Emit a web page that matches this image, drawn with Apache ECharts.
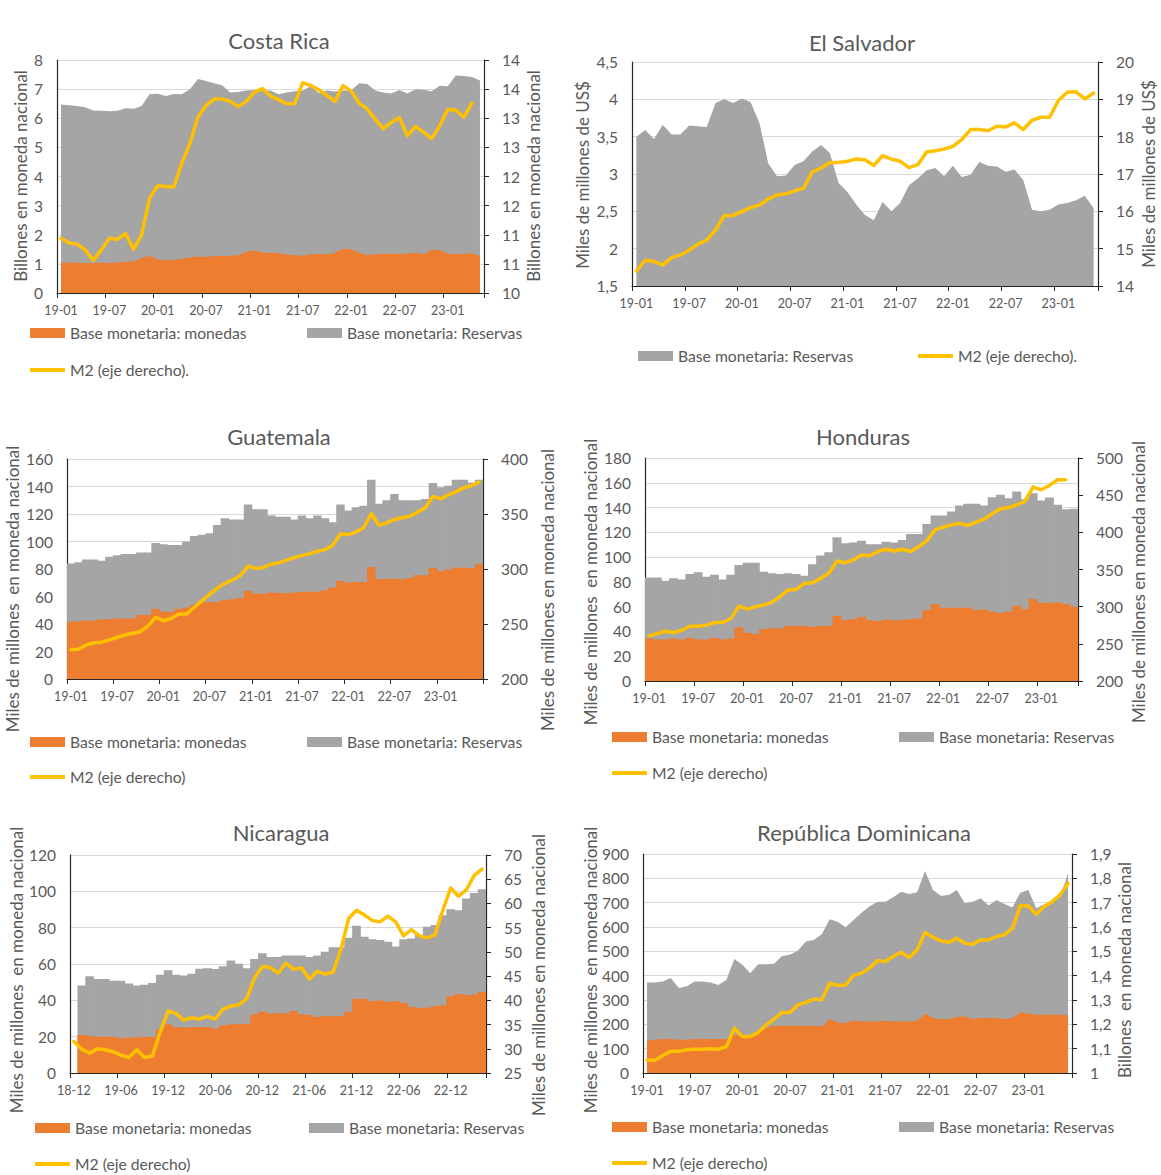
<!DOCTYPE html>
<html>
<head>
<meta charset="utf-8">
<script src="https://cdn.jsdelivr.net/npm/echarts/dist/echarts.min.js"></script>
<style>
  html, body { margin: 0; background: #fff; }
  #chart { width: 1161px; height: 1175px; }
</style>
</head>
<body>
<div id="chart"></div>
<script>
// month labels
const months = ['19-01','19-02','19-03','19-04','19-05','19-06','19-07','19-08','19-09','19-10','19-11','19-12',
  '20-01','20-02','20-03','20-04','20-05','20-06','20-07','20-08','20-09','20-10','20-11','20-12',
  '21-01','21-02','21-03','21-04','21-05','21-06','21-07','21-08','21-09','21-10','21-11','21-12',
  '22-01','22-02','22-03','22-04','22-05','22-06','22-07','22-08','22-09','22-10','22-11','22-12',
  '23-01','23-02','23-03','23-04','23-05','23-06'];
const monthsNic = ['18-12','19-01','19-02','19-03','19-04','19-05','19-06','19-07','19-08','19-09','19-10','19-11','19-12',
  '20-01','20-02','20-03','20-04','20-05','20-06','20-07','20-08','20-09','20-10','20-11','20-12',
  '21-01','21-02','21-03','21-04','21-05','21-06','21-07','21-08','21-09','21-10','21-11','21-12',
  '22-01','22-02','22-03','22-04','22-05','22-06','22-07','22-08','22-09','22-10','22-11','22-12',
  '23-01','23-02','23-03','23-04'];

// Costa Rica (billones)
const crReservas = [6.47,6.45,6.42,6.38,6.27,6.26,6.24,6.26,6.34,6.33,6.42,6.83,6.84,6.76,6.83,6.82,7.0,7.35,7.28,7.2,
  7.13,6.88,6.9,6.95,6.97,6.95,6.95,6.82,6.88,6.93,6.95,7.1,6.87,6.95,6.92,6.95,6.95,7.2,7.18,6.95,
  6.88,6.85,6.97,6.85,7.0,6.98,6.93,7.12,7.1,7.47,7.45,7.42,7.3];
const crMonedas = [1.03,1.05,1.04,1.03,1.03,1.04,1.03,1.05,1.07,1.08,1.2,1.28,1.15,1.12,1.13,1.18,1.22,1.25,1.24,1.27,
  1.27,1.28,1.3,1.42,1.46,1.38,1.37,1.37,1.32,1.3,1.28,1.33,1.34,1.33,1.37,1.52,1.5,1.38,1.3,1.33,
  1.35,1.35,1.35,1.35,1.38,1.33,1.48,1.48,1.35,1.33,1.35,1.36,1.28];
const crM2 = [10.94,10.86,10.84,10.74,10.56,10.74,10.94,10.92,11.02,10.75,11.0,11.63,11.84,11.83,11.82,12.23,12.57,13.02,13.22,13.33,
  13.33,13.29,13.2,13.29,13.45,13.51,13.38,13.32,13.25,13.25,13.61,13.56,13.49,13.39,13.29,13.56,13.47,13.26,13.16,12.98,
  12.82,12.93,13.01,12.7,12.86,12.76,12.65,12.87,13.15,13.14,13.02,13.26];

// El Salvador (miles de millones US$)
const svReservas = [3.50,3.59,3.47,3.66,3.53,3.53,3.65,3.64,3.63,3.95,4.0,3.95,4.01,3.96,3.68,3.14,2.97,2.98,3.12,3.17,
  3.30,3.39,3.28,2.88,2.76,2.59,2.45,2.38,2.63,2.50,2.61,2.85,2.94,3.05,3.08,2.97,3.11,2.96,2.99,3.16,
  3.11,3.10,3.03,3.06,2.92,2.52,2.50,2.52,2.59,2.61,2.65,2.71,2.54];
const svM2 = [14.40,14.69,14.66,14.56,14.76,14.83,14.96,15.12,15.23,15.50,15.89,15.89,15.99,16.10,16.17,16.33,16.44,16.47,16.55,16.62,
  17.05,17.16,17.31,17.31,17.34,17.40,17.38,17.23,17.49,17.40,17.34,17.17,17.25,17.59,17.62,17.67,17.74,17.92,18.19,18.19,
  18.16,18.28,18.26,18.37,18.19,18.44,18.52,18.52,18.97,19.19,19.20,19.01,19.17];

// Guatemala
const gtReservas = [84,85,87,87,86,89,90,91,91,92,92,99,98,97.5,97.5,100,104,105,106,112,
  117,116,116,127,123.5,123.5,119,118,118,116,119,117,119,117,114,127,122.5,125,126,145,
  127.5,130,134.5,130,130,130,131,142.5,139.5,140.5,145,145,143,145];
const gtMonedas = [41.5,42,42.5,42.5,43.5,43.5,44,44,44,46.5,46.5,51,49,49,51,52,54,56,56,56,
  57.5,58,59,64,62,62,63,62.5,62.5,63,63.5,63.5,63.5,64.5,66.5,71.5,70,70.5,70.5,81.5,
  72.5,73,73,72.5,73.5,75.5,75.5,81,78.5,79.5,81,81,80.5,83.5];
const gtM2 = [226.5,227,231,233,233.5,235.5,237.7,240,241.6,243,248,256,253,255,259,259,265,271,277,282.5,
  287,290,294,302.6,300.5,301.4,304.4,305.6,308,310.4,312.2,314,316.1,317.6,321.6,332,331.2,333.6,337.5,350.2,
  339.7,342,345,346.6,348,351.7,355.7,366,363.8,367.4,370.4,373.8,375.9,378.9];

// Honduras
const hnReservas = [83.6,83.6,81,83,82,86.3,87.7,84.2,85.8,82,85.8,93.6,95.5,95.5,88.2,86.9,86.3,86.9,86.3,85,
  94.2,101.2,103.9,116,111.2,111.7,113.3,110.4,110.4,112.5,111.7,113.9,118.7,118.7,126.8,133.6,133.6,136.8,141.7,143,
  143,141.7,148.4,150.3,147.6,153,146.8,151.6,145.7,148.1,142.2,138.7,139];
const hnMonedas = [34.3,33.5,33.5,34.3,33.5,34.8,33.5,33.5,34.8,33.5,34.3,43.2,38.9,37.8,41.8,42.4,42.4,44.5,44.5,44.5,
  43.7,44.5,44.5,52.6,49.1,49.9,51.8,49.1,48.3,49.6,49.1,49.1,49.9,50.5,57.2,62.1,59.1,59.1,59.1,59.1,
  57.2,57.7,55.9,55,55.9,60.7,58,66.1,63.1,63.1,63.4,62.1,59.9];
const hnM2 = [260.7,263.8,267,265.2,268.3,273.7,273.7,275.1,278.7,278.7,284.1,300.7,296.7,299.8,302.1,305.7,313.3,322.3,323.2,331.3,
  332.2,338.1,344.8,361.4,359.2,362.8,369.5,368.6,374,377.2,374.9,377.2,374,380.8,388.9,403.3,406.9,410,412.3,409.1,
  413.6,417.7,424.9,431.6,433.4,437,441.5,460.9,457.3,463.1,470.8,470.8];

// Nicaragua
const niReservas = [null,48.1,53.2,51.7,51.7,50.8,50.8,49.2,48.1,48.6,49.5,54.1,56.5,54.1,53.7,54.6,57.4,57.7,57.2,58.7,
  61.9,60.1,57.7,62.8,65.9,63.8,63.8,64.7,64.7,64.7,63.8,64.7,66.8,69.2,69.2,74.5,81.1,75,73.6,73.2,
  72.3,69.6,73.6,74.1,76,80.5,81.4,86.9,90.2,89.6,96,99.1,101.1];
const niMonedas = [null,20.9,20.4,19.9,20,19.9,19.1,19.5,19.5,19.9,19.9,24,26.8,25.3,25,25.3,25.3,25.3,24.4,26.2,
  26.8,26.8,27.1,32.2,33.7,32.8,32.8,32.8,34.1,32.2,31.9,30.8,31.3,31.3,31.3,33.7,40.8,40.8,39.5,39.9,
  39.2,39.5,38.6,36.4,35.9,35.9,36.8,37.2,42.3,43.5,42.8,43.2,44.6];
const niM2 = [31.5,29.9,29.1,30.0,29.8,29.4,28.7,28.2,29.8,28.2,28.5,33.5,37.8,37.3,35.9,36.4,36.1,36.7,36.1,38.2,
  38.8,39.1,40.3,44.6,47.0,46.8,45.6,47.7,46.4,46.7,44.4,46.0,45.4,45.8,50.4,56.9,58.6,57.6,56.5,56.2,
  57.4,56.2,53.3,54.6,53.3,52.9,53.5,58.6,63.2,61.5,62.8,65.8,67.1];

// Republica Dominicana
const rdReservas = [372,372,376,390,349,356,376,376,372,362,383,469,445,410,447,447,449,481,486,503,
  540,547,570,632,622,599,629,659,684,704,704,722,745,736,743,830,752,728,732,752,
  698,704,718,688,711,695,680,741,752,677,693,704,722,821];
const rdMonedas = [133,137,140,140,137,137,140,140,140,140,140,157,150,150,167,185,194,194,194,194,
  194,194,191,222,208,205,215,212,212,212,215,212,212,212,215,243,226,222,222,230,
  233,222,226,226,226,222,226,250,243,239,239,239,239,237];
const rdM2 = [1.052,1.052,1.072,1.089,1.089,1.096,1.098,1.098,1.1,1.098,1.109,1.184,1.15,1.15,1.167,1.198,1.221,1.249,1.249,1.28,
  1.29,1.304,1.301,1.369,1.36,1.362,1.401,1.41,1.431,1.461,1.458,1.479,1.496,1.475,1.506,1.577,1.558,1.543,1.537,1.554,
  1.533,1.529,1.547,1.547,1.561,1.568,1.595,1.688,1.687,1.652,1.684,1.704,1.732,1.78];

const FONT = 'Lato, "Open Sans", sans-serif';
const TXT = '#595959';
const AXIS = '#262626';
const ORANGE = '#ED7D31', GRAY = '#A5A5A5', GOLD = '#FFC000';
const MON = 'Base monetaria: monedas', RES = 'Base monetaria: Reservas';

const comma = (d) => (v) => (Math.round(v * Math.pow(10, d)) / Math.pow(10, d)).toString().replace('.', ',');
const MILES = 'Miles de millones  en moneda nacional';
const MILES2 = 'Miles de millones en moneda nacional';

const panels = [
  { title: 'Costa Rica', tpos: [279, 40], box: [57, 60, 427, 233], kind: 'area', cats: months.slice(0, 53),
    res: crReservas, mon: crMonedas, m2: crM2, m2Name: 'M2 (eje derecho).',
    left: [0, 8, 1], right: [10, 14, 0.5], rightFmt: (v) => String(Math.round(v)),
    lname: ['Billones en moneda nacional', 20, 176], rname: ['Billones en moneda nacional', 533, 176],
    leg: { mon: [30, 334], res: [307, 334], m2: [30, 371] } },
  { title: 'El Salvador', tpos: [862, 42], box: [632, 62, 466, 224], kind: 'area', cats: months.slice(0, 53),
    res: svReservas, mon: null, m2: svM2, m2Name: 'M2 (eje derecho).',
    left: [1.5, 4.5, 0.5], leftFmt: comma(1), right: [14, 20, 1],
    lname: ['Miles de millones de US$', 582, 175], rname: ['Miles de millones de US$', 1148, 174],
    leg: { res: [638, 357], m2: [918, 357] } },
  { title: 'Guatemala', tpos: [279, 436], box: [67, 459, 416, 220], kind: 'bar', cats: months,
    res: gtReservas, mon: gtMonedas, m2: gtM2, m2Name: 'M2 (eje derecho)',
    left: [0, 160, 20], right: [200, 400, 50],
    lname: [MILES, 12, 589], rname: [MILES2, 547, 590],
    leg: { mon: [30, 743], res: [307, 743], m2: [30, 778] } },
  { title: 'Honduras', tpos: [863, 436], box: [645, 458, 433, 223], kind: 'bar', cats: months.slice(0, 53),
    res: hnReservas, mon: hnMonedas, m2: hnM2, m2Name: 'M2 (eje derecho)',
    left: [0, 180, 20], right: [200, 500, 50],
    lname: [MILES, 590, 582], rname: [MILES2, 1138, 582],
    leg: { mon: [612, 738], res: [899, 738], m2: [612, 774] } },
  { title: 'Nicaragua', tpos: [281, 832], box: [70, 855, 416, 218], kind: 'bar', cats: monthsNic,
    res: niReservas, mon: niMonedas, m2: niM2, m2Name: 'M2 (eje derecho)',
    left: [0, 120, 20], right: [25, 70, 5],
    lname: [MILES, 16, 970], rname: [MILES2, 538, 975],
    leg: { mon: [35, 1129], res: [309, 1129], m2: [35, 1165] } },
  { title: 'República Dominicana', tpos: [864, 832], box: [643, 854, 429, 219], kind: 'area', cats: months,
    res: rdReservas, mon: rdMonedas, m2: rdM2, m2Name: 'M2 (eje derecho)',
    left: [0, 900, 100], right: [1, 1.9, 0.1], rightFmt: comma(1),
    lname: [MILES, 590, 970], rname: ['Billones  en moneda nacional', 1124, 970],
    leg: { mon: [612, 1128], res: [899, 1128], m2: [612, 1164] } },
];

const option = { animation: false, backgroundColor: '#fff', grid: [], xAxis: [], yAxis: [], series: [], legend: [], graphic: [] };

function labelStyle(size) {
  return { color: TXT, fontSize: size, fontFamily: FONT };
}

function legendItem(pos, name, isLine) {
  return {
    left: pos[0], top: pos[1] - 9, padding: 0, selectedMode: false,
    data: [{ name: name, icon: 'rect' }],
    itemWidth: 35, itemHeight: isLine ? 4 : 10,
    textStyle: { color: TXT, fontSize: 15.7, fontFamily: FONT },
  };
}

function vText(t) {
  return { type: 'text', x: t[1], y: t[2], rotation: Math.PI / 2,
    style: { text: t[0], fill: TXT, fontSize: 17, fontFamily: FONT, align: 'center', verticalAlign: 'middle' } };
}

panels.forEach((p, i) => {
  const [gl, gt, gw, gh] = p.box;
  option.grid.push({ left: gl, top: gt, width: gw, height: gh, outerBoundsMode: 'none', containLabel: false });
  option.xAxis.push({
    type: 'category', gridIndex: i, data: p.cats, boundaryGap: true,
    axisLine: { lineStyle: { color: AXIS, width: 1.2 } },
    axisTick: { show: true, interval: 5, length: 5, lineStyle: { color: AXIS } },
    axisLabel: Object.assign({ interval: 5, margin: 11 }, labelStyle(12.5)),
    splitLine: { show: false },
  });
  option.yAxis.push({
    type: 'value', gridIndex: i, position: 'left', min: p.left[0], max: p.left[1], interval: p.left[2],
    axisLine: { show: true, lineStyle: { color: AXIS, width: 1.2 } },
    axisTick: { show: false },
    axisLabel: Object.assign({ margin: 14, formatter: p.leftFmt }, labelStyle(15.5)),
    splitLine: { show: true, lineStyle: { color: '#D9D9D9', width: 1 } },
  });
  option.yAxis.push({
    type: 'value', gridIndex: i, position: 'right', min: p.right[0], max: p.right[1], interval: p.right[2],
    axisLine: { show: true, lineStyle: { color: AXIS, width: 1.2 } },
    axisTick: { show: true, length: 5, lineStyle: { color: AXIS } },
    axisLabel: Object.assign({ margin: 18, formatter: p.rightFmt }, labelStyle(15.5)),
    splitLine: { show: false },
  });

  const yl = 2 * i, yr = 2 * i + 1;
  if (p.kind === 'area') {
    option.series.push({
      type: 'line', name: RES, xAxisIndex: i, yAxisIndex: yl, data: p.res,
      symbol: 'none', lineStyle: { width: 0 }, itemStyle: { color: GRAY },
      areaStyle: { color: GRAY, opacity: 1, origin: 'start' }, z: 2,
    });
    if (p.mon) {
      option.series.push({
        type: 'line', name: MON, xAxisIndex: i, yAxisIndex: yl, data: p.mon,
        symbol: 'none', lineStyle: { width: 0 }, itemStyle: { color: ORANGE },
        areaStyle: { color: ORANGE, opacity: 1, origin: 'start' }, z: 3,
      });
    }
  } else {
    // columns with no gap; a little wider than the slot so neighbours overlap without seams
    const bw = gw / p.cats.length + 0.8;
    option.series.push({
      type: 'bar', name: RES, xAxisIndex: i, yAxisIndex: yl, data: p.res,
      barWidth: bw, barGap: '-100%',
      itemStyle: { color: GRAY }, z: 2,
    });
    option.series.push({
      type: 'bar', name: MON, xAxisIndex: i, yAxisIndex: yl, data: p.mon,
      barWidth: bw, barGap: '-100%',
      itemStyle: { color: ORANGE }, z: 3,
    });
  }
  option.series.push({
    type: 'line', name: p.m2Name, xAxisIndex: i, yAxisIndex: yr, data: p.m2,
    symbol: 'none', z: 5,
    lineStyle: { color: GOLD, width: 3.5, join: 'round', cap: 'round' },
    itemStyle: { color: GOLD },
  });

  if (p.leg.mon) option.legend.push(legendItem(p.leg.mon, MON, false));
  if (p.leg.res) option.legend.push(legendItem(p.leg.res, RES, false));
  option.legend.push(legendItem(p.leg.m2, p.m2Name, true));

  option.graphic.push({
    type: 'text', x: p.tpos[0], y: p.tpos[1],
    style: { text: p.title, fill: TXT, fontSize: 22, fontFamily: FONT, align: 'center', verticalAlign: 'middle' },
  });
  option.graphic.push(vText(p.lname));
  option.graphic.push(vText(p.rname));
});

const chart = echarts.init(document.getElementById('chart'), null, { renderer: 'svg' });
chart.setOption(option);
</script>
</body>
</html>
